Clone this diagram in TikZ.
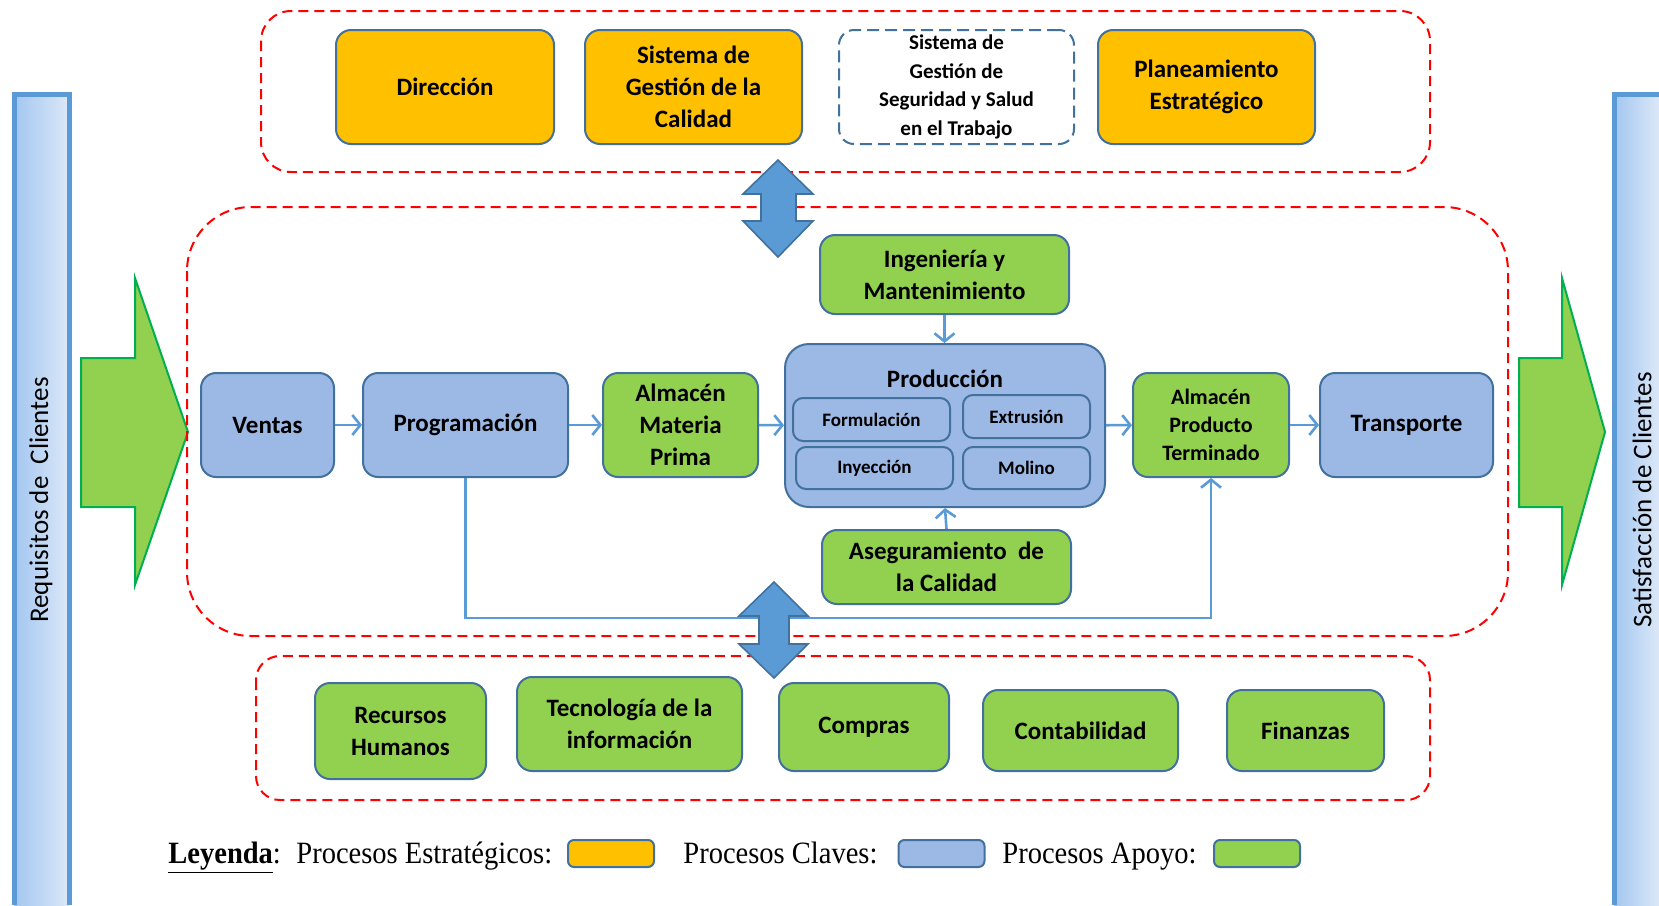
\documentclass[tikz,border=0pt]{standalone}
\usepackage{fontspec}
\setmainfont{Carlito}
\newfontfamily\leyfont[FakeStretch=0.92]{Liberation Serif}
\usetikzlibrary{arrows.meta}
\definecolor{estrafill}{HTML}{FFC000}
\definecolor{clavefill}{HTML}{9CB8E4}
\definecolor{apoyofill}{HTML}{92D050}
\definecolor{boxline}{HTML}{41719C}
\definecolor{flowblue}{HTML}{5B9BD5}
\definecolor{arrowgreen}{HTML}{00B050}
\definecolor{barleft}{HTML}{A3C6F0}
\definecolor{barright}{HTML}{DCE8F8}

\begin{document}
\begin{tikzpicture}[x=0.5pt,y=-0.5pt,
  proc/.style={draw=boxline,line width=1pt,rounded corners=7.5pt,align=center,inner sep=0pt,
    font=\bfseries\fontsize{12.5}{16}\selectfont},
  estra/.style={proc,fill=estrafill},
  clave/.style={proc,fill=clavefill},
  apoyo/.style={proc,fill=apoyofill},
  sub/.style={proc,rounded corners=5pt,font=\bfseries\fontsize{9.5}{11}\selectfont},
  zona/.style={draw=red,line width=1pt,dash pattern=on 5pt off 3pt},
  flow/.style={draw=flowblue,line width=1.3pt,-{Straight Barb[length=4pt,width=10pt]}},
  doble/.style={fill=flowblue,draw=boxline,line width=0.8pt},
  grande/.style={fill=apoyofill,draw=arrowgreen,line width=1pt},
  barra/.style={left color=barleft,right color=barright},
  lado/.style={rotate=90,font=\fontsize{13.5}{16}\selectfont},
  legbox/.style={draw=boxline,line width=1pt,rounded corners=3pt,minimum width=43pt,minimum height=13.5pt},
  legtxt/.style={anchor=base west,inner sep=0pt,font=\leyfont\fontsize{15.5}{17}\selectfont}]
  \useasboundingbox (0,0) rectangle (1659,905);

  % side bars
  \shade[barra] (14,94) rectangle (69,905);
  \draw[flowblue,line width=2.5pt] (14,905) -- (14,94) -- (69,94) -- (69,905);
  \shade[barra] (1614,94) rectangle (1659,905);
  \draw[flowblue,line width=2.5pt] (1614,905) -- (1614,94) -- (1659,94);
  \node[lado] (req) at (41,500) {Requisitos de\ \ Clientes};
  \node[lado] (sat) at (1642,500) {Satisfacción de Clientes};

  % green arrows
  \draw[grande] (81,358) -- (135,358) -- (135,278) -- (188,432) -- (135,585) -- (135,507) -- (81,507) -- cycle;
  \draw[grande] (1519,358) -- (1562,358) -- (1562,278) -- (1605,432) -- (1562,585) -- (1562,507) -- (1519,507) -- cycle;

  % zones
  \draw[zona,rounded corners=15pt] (261,11) rectangle (1430,172);
  \draw[zona,rounded corners=32pt] (187,207) rectangle (1508,636);
  \draw[zona,rounded corners=12pt] (256,656) rectangle (1430,800);

  % estrategicos
  \node[estra,minimum width=109pt,minimum height=57pt] (dir) at (445,87) {Dirección};
  \node[estra,minimum width=108.5pt,minimum height=57pt] (sgc) at (693.5,87) {Sistema de\\Gestión de la\\Calidad};
  \node[proc,fill=white,dash pattern=on 6pt off 3pt,minimum width=117.5pt,minimum height=57pt,
    font=\bfseries\fontsize{10.5}{14.3}\selectfont] (sgsst) at (956.5,87) {Sistema de\\Gestión de\\Seguridad y Salud\\en el Trabajo};
  \node[estra,minimum width=108.5pt,minimum height=57pt] (plan) at (1206.5,87) {Planeamiento\\Estratégico};

  % claves
  \node[clave,minimum width=66.5pt,minimum height=52pt] (ven) at (267.5,425) {Ventas};
  \node[clave,minimum width=102.5pt,minimum height=52pt] (prog) at (465.5,425) {Programación};
  \node[apoyo,minimum width=77.5pt,minimum height=52pt] (amp) at (680.5,425) {Almacén\\Materia\\Prima};
  \node[clave,rounded corners=12pt,minimum width=160pt,minimum height=81.5pt] (prod) at (945,425.5) {};
  \node[font=\bfseries\fontsize{12.5}{15}\selectfont] (prodlbl) at (945,379) {Producción};
  \node[sub,minimum width=78.5pt,minimum height=21.5pt] (form) at (871.5,419.5) {Formulación};
  \node[sub,minimum width=63.5pt,minimum height=21.5pt] (extr) at (1026.5,416.5) {Extrusión};
  \node[sub,minimum width=78.5pt,minimum height=21pt] (iny) at (874.5,468) {Inyección};
  \node[sub,minimum width=63.5pt,minimum height=21pt] (mol) at (1026.5,468) {Molino};
  \node[apoyo,minimum width=78pt,minimum height=52pt,font=\bfseries\fontsize{11}{14}\selectfont] (apt) at (1211,425) {Almacén\\Producto\\Terminado};
  \node[clave,minimum width=86.5pt,minimum height=52pt] (trans) at (1406.5,425) {Transporte};
  \node[apoyo,minimum width=124.5pt,minimum height=39.5pt] (ing) at (944.5,274.5) {Ingeniería y\\Mantenimiento};
  \node[apoyo,minimum width=124.5pt,minimum height=37pt] (aseg) at (946.5,567) {Aseguramiento\ \ de\\la Calidad};

  \draw[flow] (ven) -- (prog);
  \draw[flow] (prog) -- (amp);
  \draw[flow] (amp) -- (prod);
  \draw[flow] (prod) -- (apt);
  \draw[flow] (apt) -- (trans);
  \draw[flow] (ing) -- (ing |- prod.north);
  \draw[flow] (aseg.north) -- (prod.south);
  \draw[flow] (prog.south) -- ++(0,140) -| (apt.south);

  % double arrows
  \draw[doble] (778,160) -- (813,194) -- (796,194) -- (796,221) -- (813,221) -- (778,257)
    -- (743,221) -- (761,221) -- (761,194) -- (743,194) -- cycle;
  \draw[doble] (774,582) -- (808,616) -- (789,616) -- (789,644) -- (808,644) -- (774,678)
    -- (739,644) -- (759,644) -- (759,616) -- (739,616) -- cycle;

  % apoyo
  \node[apoyo,minimum width=85.5pt,minimum height=48pt] (rrhh) at (400.5,731) {Recursos\\Humanos};
  \node[apoyo,minimum width=112.5pt,minimum height=47pt] (ti) at (629.5,724) {Tecnología de la\\información};
  \node[apoyo,minimum width=85pt,minimum height=44pt] (comp) at (864,727) {Compras};
  \node[apoyo,minimum width=97.5pt,minimum height=40.5pt] (cont) at (1080.5,730.5) {Contabilidad};
  \node[apoyo,minimum width=78.5pt,minimum height=40.5pt] (fin) at (1305.5,730.5) {Finanzas};

  % leyenda
  \node[legtxt] (ley) at (168,863) {\underline{\textbf{Leyenda}}:};
  \node[legtxt] (lest) at (296,863) {Procesos Estratégicos:};
  \node[legbox,fill=estrafill] (kest) at (611,853.5) {};
  \node[legtxt] (lcla) at (683,863) {Procesos Claves:};
  \node[legbox,fill=clavefill] (kcla) at (941.5,853.5) {};
  \node[legtxt] (lapo) at (1002,863) {Procesos Apoyo:};
  \node[legbox,fill=apoyofill] (kapo) at (1257,853.5) {};
\end{tikzpicture}
\end{document}
